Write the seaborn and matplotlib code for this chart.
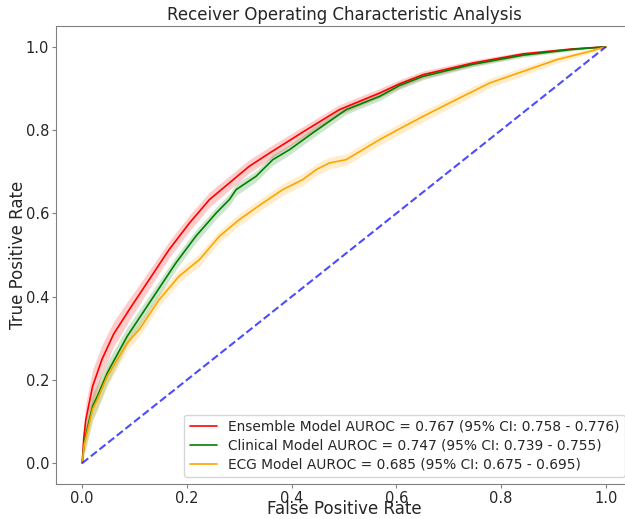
import numpy as np
import pandas as pd
import matplotlib
matplotlib.use("Agg")
import matplotlib.pyplot as plt
import seaborn as sns

# ---- data ----
ens_fpr = [0.0, 0.003, 0.007, 0.020, 0.038, 0.060, 0.090, 0.128, 0.166, 0.205, 0.243, 0.281,
           0.319, 0.358, 0.396, 0.421, 0.491, 0.568, 0.606, 0.651, 0.746, 0.842, 0.937, 1.0]
ens_tpr = [0.0, 0.060, 0.105, 0.185, 0.250, 0.310, 0.369, 0.441, 0.513, 0.577, 0.633, 0.673,
           0.713, 0.745, 0.775, 0.795, 0.849, 0.889, 0.911, 0.933, 0.961, 0.983, 0.995, 1.0]
ens_ci = [0.0, 0.03, 0.04, 0.04, 0.035, 0.03, 0.026, 0.022, 0.02, 0.019, 0.018, 0.017,
          0.016, 0.015, 0.014, 0.013, 0.012, 0.011, 0.01, 0.009, 0.007, 0.005, 0.003, 0.0]

cli_fpr = [0.0, 0.004, 0.0096, 0.020, 0.029, 0.048, 0.086, 0.103, 0.141, 0.179, 0.217, 0.256,
           0.281, 0.294, 0.332, 0.364, 0.396, 0.440, 0.504, 0.568, 0.606, 0.651, 0.746, 0.842,
           0.937, 1.0]
cli_tpr = [0.0, 0.050, 0.082, 0.137, 0.161, 0.217, 0.305, 0.337, 0.409, 0.481, 0.545, 0.601,
           0.633, 0.657, 0.689, 0.729, 0.753, 0.793, 0.849, 0.881, 0.907, 0.929, 0.958, 0.980,
           0.994, 1.0]
cli_ci = [0.0, 0.025, 0.03, 0.032, 0.03, 0.027, 0.022, 0.02, 0.018, 0.016, 0.015, 0.014,
          0.014, 0.014, 0.013, 0.013, 0.012, 0.012, 0.011, 0.01, 0.009, 0.008, 0.006, 0.005,
          0.003, 0.0]

ecg_fpr = [0.0, 0.004, 0.0096, 0.020, 0.029, 0.048, 0.086, 0.109, 0.147, 0.185, 0.224, 0.262,
           0.300, 0.345, 0.383, 0.421, 0.447, 0.472, 0.504, 0.568, 0.606, 0.651, 0.714, 0.778,
           0.842, 0.906, 0.969, 1.0]
ecg_tpr = [0.0, 0.045, 0.074, 0.130, 0.153, 0.209, 0.289, 0.321, 0.393, 0.449, 0.489, 0.545,
           0.585, 0.625, 0.657, 0.681, 0.705, 0.721, 0.729, 0.777, 0.803, 0.833, 0.873, 0.913,
           0.941, 0.969, 0.989, 1.0]
ecg_ci = [0.0, 0.025, 0.03, 0.028, 0.026, 0.022, 0.018, 0.017, 0.016, 0.015, 0.015, 0.014,
          0.014, 0.014, 0.014, 0.014, 0.014, 0.014, 0.014, 0.013, 0.013, 0.013, 0.012, 0.011,
          0.01, 0.008, 0.005, 0.0]

labels = ["Ensemble Model AUROC = 0.767 (95% CI: 0.758 - 0.776)",
          "Clinical Model AUROC = 0.747 (95% CI: 0.739 - 0.755)",
          "ECG Model AUROC = 0.685 (95% CI: 0.675 - 0.695)"]
colors = ["red", "green", "orange"]

chance = [0.0, 1.0]

# ---- plotting ----
sns.set_style("ticks")
plt.rcParams["font.family"] = ["DejaVu Sans"]

fig = plt.figure(figsize=(6.25, 5.19), dpi=100)
ax = fig.add_axes([56 / 625, 35 / 519, 576 / 625, 458 / 519])

series = [(ens_fpr, ens_tpr, ens_ci), (cli_fpr, cli_tpr, cli_ci), (ecg_fpr, ecg_tpr, ecg_ci)]
for (f, t, c), lab, col in zip(series, labels, colors):
    df = pd.DataFrame({"fpr": f, "tpr": t})
    t_arr = np.array(t)
    c_arr = np.array(c)
    ax.fill_between(f, np.clip(t_arr - c_arr, 0, 1), np.clip(t_arr + c_arr, 0, 1),
                    color=col, alpha=0.2, linewidth=0)
    sns.lineplot(data=df, x="fpr", y="tpr", ax=ax, color=col, linewidth=1.2,
                 estimator=None, sort=False, label=lab)

ax.plot(chance, chance, linestyle="--", color="blue", alpha=0.7, linewidth=1.5)

ax.set_xlim(-0.05, 1.05)
ax.set_ylim(-0.05, 1.05)
ax.set_xticks([0.0, 0.2, 0.4, 0.6, 0.8, 1.0])
ax.set_yticks([0.0, 0.2, 0.4, 0.6, 0.8, 1.0])
ax.tick_params(labelsize=10.5, color="gray", length=3, pad=2)
for name, s in ax.spines.items():
    s.set_color("gray")
ax.spines["right"].set_visible(False)

ax.set_title("Receiver Operating Characteristic Analysis", fontsize=12, pad=4)
ax.set_xlabel("False Positive Rate", fontsize=12, va="bottom")
ax.set_ylabel("True Positive Rate", fontsize=12)
ax.xaxis.set_label_coords(0.5, -0.0745)
ax.yaxis.set_label_coords(-0.05, 0.5)
ax.legend(loc="lower right", fontsize=9.9, bbox_to_anchor=(1.0, 0.0),
          labelspacing=0.35, borderpad=0.4)

fig.savefig("out.png", dpi=100)
